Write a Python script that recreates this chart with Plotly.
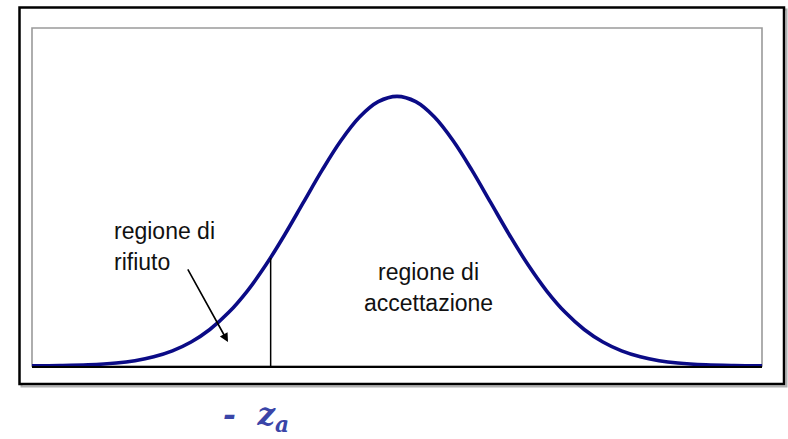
import plotly.graph_objects as go

# Standard-normal curve (x in z units, y = density height)
z_vals = [-3.9, -3.6, -3.3, -3.0, -2.8, -2.6, -2.4, -2.2, -2.0, -1.8, -1.6, -1.4,
          -1.2, -1.0, -0.8, -0.6, -0.4, -0.2, 0.0, 0.2, 0.4, 0.6, 0.8, 1.0, 1.2,
          1.4, 1.6, 1.8, 2.0, 2.2, 2.4, 2.6, 2.8, 3.0, 3.3, 3.6, 3.9]
density = [0.0002, 0.0006, 0.0017, 0.0044, 0.0079, 0.0136, 0.0224, 0.0355, 0.0540,
           0.0790, 0.1109, 0.1497, 0.1942, 0.2420, 0.2897, 0.3332, 0.3683, 0.3910,
           0.3989, 0.3910, 0.3683, 0.3332, 0.2897, 0.2420, 0.1942, 0.1497, 0.1109,
           0.0790, 0.0540, 0.0355, 0.0224, 0.0136, 0.0079, 0.0044, 0.0017, 0.0006,
           0.0002]

# critical value line
crit_x = [-1.35, -1.35]
crit_y = [0.0, 0.160]

# arrow (head, tail) in data units
arrow_head = (-1.806, 0.0355)
arrow_tail = (-2.244, 0.145)

label_rifiuto = ["regione di", "rifiuto"]
label_accett = ["regione di", "accettazione"]
label_z = "<b><i>-  z<sub>a</sub></i></b>"

PLOT_L, PLOT_R, PLOT_T, PLOT_B = 32, 762, 28, 366
W, H = 788, 439


def px(x):
    return (x - PLOT_L) / (PLOT_R - PLOT_L)


def py(y):
    return (PLOT_B - y) / (PLOT_B - PLOT_T)


fig = go.Figure()
fig.add_trace(go.Scatter(x=z_vals, y=density, mode="lines",
                         line=dict(color="#0b0b86", width=3.6, shape="spline"),
                         hoverinfo="skip", showlegend=False))
fig.add_trace(go.Scatter(x=crit_x, y=crit_y, mode="lines",
                         line=dict(color="black", width=1.5),
                         hoverinfo="skip", showlegend=False))

shapes = [
    # shadow of outer frame
    dict(type="rect", xref="paper", yref="paper",
         x0=px(21.5), x1=px(786.5), y0=py(386.5), y1=py(9.5),
         line=dict(color="#b0b0b0", width=2), layer="below"),
    # outer black frame
    dict(type="rect", xref="paper", yref="paper",
         x0=px(19.5), x1=px(784), y0=py(384), y1=py(7.5),
         line=dict(color="black", width=2.5), fillcolor="white", layer="below"),
    # inner gray plot frame
    dict(type="rect", xref="paper", yref="paper",
         x0=0, x1=1, y0=0, y1=1,
         line=dict(color="#9a9a9a", width=1.6), layer="below"),
]

font_txt = dict(family="Liberation Sans, Arial, sans-serif", size=23, color="#111111")
annotations = [
    dict(xref="paper", yref="paper", x=px(112), y=py(230.5), text=label_rifiuto[0],
         xanchor="left", yanchor="middle", showarrow=False, font=font_txt),
    dict(xref="paper", yref="paper", x=px(112), y=py(261.5), text=label_rifiuto[1],
         xanchor="left", yanchor="middle", showarrow=False, font=font_txt),
    dict(xref="paper", yref="paper", x=px(428.5), y=py(271.5), text=label_accett[0],
         xanchor="center", yanchor="middle", showarrow=False, font=font_txt),
    dict(xref="paper", yref="paper", x=px(428.5), y=py(302.5), text=label_accett[1],
         xanchor="center", yanchor="middle", showarrow=False, font=font_txt),
    dict(xref="x", yref="y", axref="x", ayref="y",
         x=arrow_head[0], y=arrow_head[1], ax=arrow_tail[0], ay=arrow_tail[1],
         text="", showarrow=True, arrowhead=2, arrowsize=1.1, arrowwidth=1.6,
         arrowcolor="black"),
    dict(xref="paper", yref="paper", x=px(256), y=py(416), text=label_z,
         xanchor="center", yanchor="middle", showarrow=False,
         font=dict(family="DejaVu Serif, serif", size=31, color="#3a45a8")),
]

fig.update_layout(
    width=W, height=H,
    margin=dict(l=PLOT_L, r=W - PLOT_R, t=PLOT_T, b=H - PLOT_B, pad=0),
    paper_bgcolor="white", plot_bgcolor="rgba(0,0,0,0)",
    shapes=shapes, annotations=annotations, showlegend=False,
    xaxis=dict(range=[-3.9, 3.9], showgrid=False, zeroline=False,
               showticklabels=False, ticks="", showline=True,
               linecolor="black", linewidth=2, fixedrange=True),
    yaxis=dict(range=[0, 0.5], showgrid=False, zeroline=False,
               showticklabels=False, ticks="", showline=False, fixedrange=True),
)

fig.write_html("out.html", config={"displayModeBar": False},
               post_script="document.body.style.margin='0';document.body.style.overflow='hidden';")
